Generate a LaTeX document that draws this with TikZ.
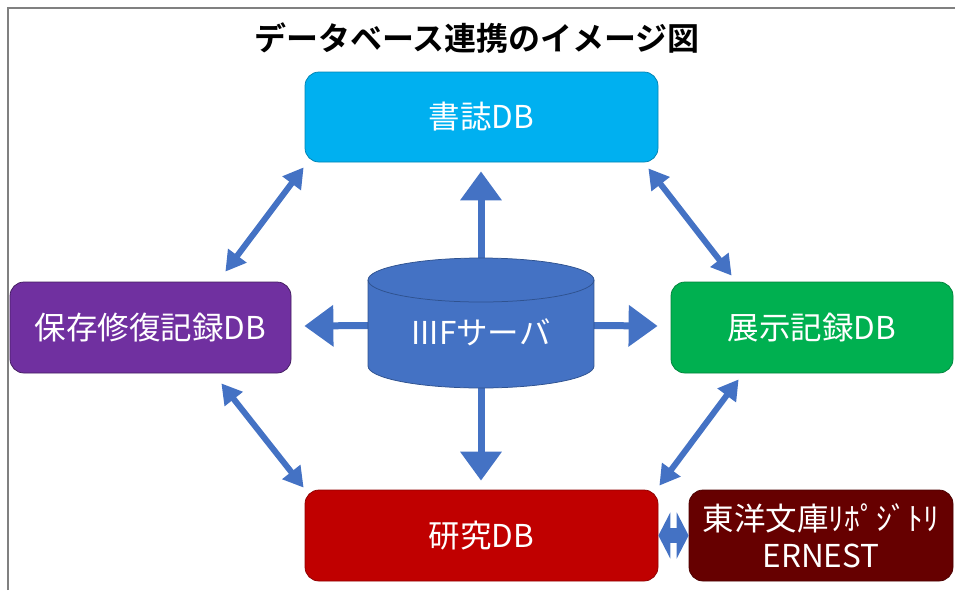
\documentclass[tikz,border=0pt]{standalone}
\usepackage{fontspec}
\setmainfont{Noto Sans CJK JP}
\newfontfamily\jpfont{Noto Sans CJK JP}
\newfontfamily\jpbold{Noto Sans CJK JP Bold}
\usetikzlibrary{arrows.meta,calc}
\definecolor{shoshiC}{HTML}{00B0F0}
\definecolor{hozonC}{HTML}{7030A0}
\definecolor{tenjiC}{HTML}{00B050}
\definecolor{kenkyuC}{HTML}{C00000}
\definecolor{ernestC}{HTML}{660000}
\definecolor{cylC}{HTML}{4472C4}
\definecolor{cylLine}{HTML}{2F528F}
\definecolor{arrC}{HTML}{4472C4}
\definecolor{frameC}{HTML}{808080}
\tikzset{
  dbbox/.style={rounded corners=14pt, inner sep=0pt, line width=0.75pt,
    text=white, font=\jpfont\fontsize{31.5}{36}\selectfont, align=center},
  blockarrow/.style={draw=arrC, line width=7pt, -{Triangle[width=40pt,length=29pt]}},
  diagarrow/.style={draw=arrC, line width=6pt,
    {Triangle[width=22pt,length=20pt]}-{Triangle[width=22pt,length=20pt]}},
  wideboth/.style={draw=arrC, line width=15pt,
    {Triangle[width=46pt,length=12pt]}-{Triangle[width=46pt,length=12pt]}},
}
\begin{document}
\begin{tikzpicture}[x=1pt,y=-1pt]
\useasboundingbox (0,0) rectangle (955,590);
% frame
\draw[frameC, line width=1.8pt] (8,590) -- (8,8) -- (955,8);
% title
\node[font=\jpbold\fontsize{32}{38}\selectfont] (title) at (477,38) {データベース連携のイメージ図};
% boxes
\node[dbbox, fill=shoshiC, draw=shoshiC!75!black, minimum width=353pt, minimum height=90pt] (shoshi) at (481.5,117) {書誌DB};
\node[dbbox, fill=hozonC, draw=hozonC!60!black, minimum width=281pt, minimum height=91pt] (hozon) at (150.5,327.5) {保存修復記録DB};
\node[dbbox, fill=tenjiC, draw=tenjiC!75!black, minimum width=282pt, minimum height=91pt] (tenji) at (812,327.5) {展示記録DB};
\node[dbbox, fill=kenkyuC, draw=kenkyuC!75!black, minimum width=353pt, minimum height=91pt] (kenkyu) at (481.5,535.5) {研究DB};
\node[dbbox, fill=ernestC, draw=ernestC!75!black, minimum width=264pt, minimum height=91pt] (ernest) at (821,535.5) {東洋文庫ﾘﾎﾟｼﾞﾄﾘ\\[1pt]ERNEST};
% cylinder placeholder node
\node[minimum width=226pt, minimum height=131pt, inner sep=0pt] (iiif) at (481,322.5) {};
% arrows from the server
\draw[blockarrow] ($(iiif.north)+(0,2)$) -- ($(shoshi.south)+(-0.5,9)$);
\draw[blockarrow] ($(iiif.south)+(0,-2)$) -- ($(kenkyu.north)+(-0.5,-9)$);
\draw[blockarrow] ($(iiif.west)+(2,3)$) -- ($(hozon.east)+(13,-1.5)$);
\draw[blockarrow] ($(iiif.east)+(-2,3)$) -- ($(tenji.west)+(-13,-1.5)$);
% cylinder
\fill[cylC] (368,280) rectangle (594,366);
\fill[cylC] (481,366) ellipse[x radius=113, y radius=22];
\fill[cylC] (481,280) ellipse[x radius=113, y radius=22];
\draw[cylLine, line width=0.75pt] (368,280) -- (368,366) arc[start angle=180, end angle=0, x radius=113, y radius=22] -- (594,280);
\draw[cylLine, line width=0.75pt] (481,280) ellipse[x radius=113, y radius=22];
\node[text=white, font=\jpfont\fontsize{31.5}{36}\selectfont] (iiiflabel) at ($(iiif.center)+(0,10)$) {IIIFサーバ};
% diagonal double arrows
\draw[diagarrow] ($(shoshi.south west)+(-1,5)$) -- ($(hozon.north east)+(-66,-10)$);
\draw[diagarrow] ($(shoshi.south east)+(-10,6)$) -- ($(tenji.north west)+(61,-6)$);
\draw[diagarrow] ($(hozon.south east)+(-70,10)$) -- ($(kenkyu.north west)+(-1,-2)$);
\draw[diagarrow] ($(tenji.south west)+(68,6)$) -- ($(kenkyu.north east)+(1,-4)$);
% kenkyu <-> ernest
\draw[wideboth] (kenkyu.east) -- (ernest.west);
\end{tikzpicture}
\end{document}
